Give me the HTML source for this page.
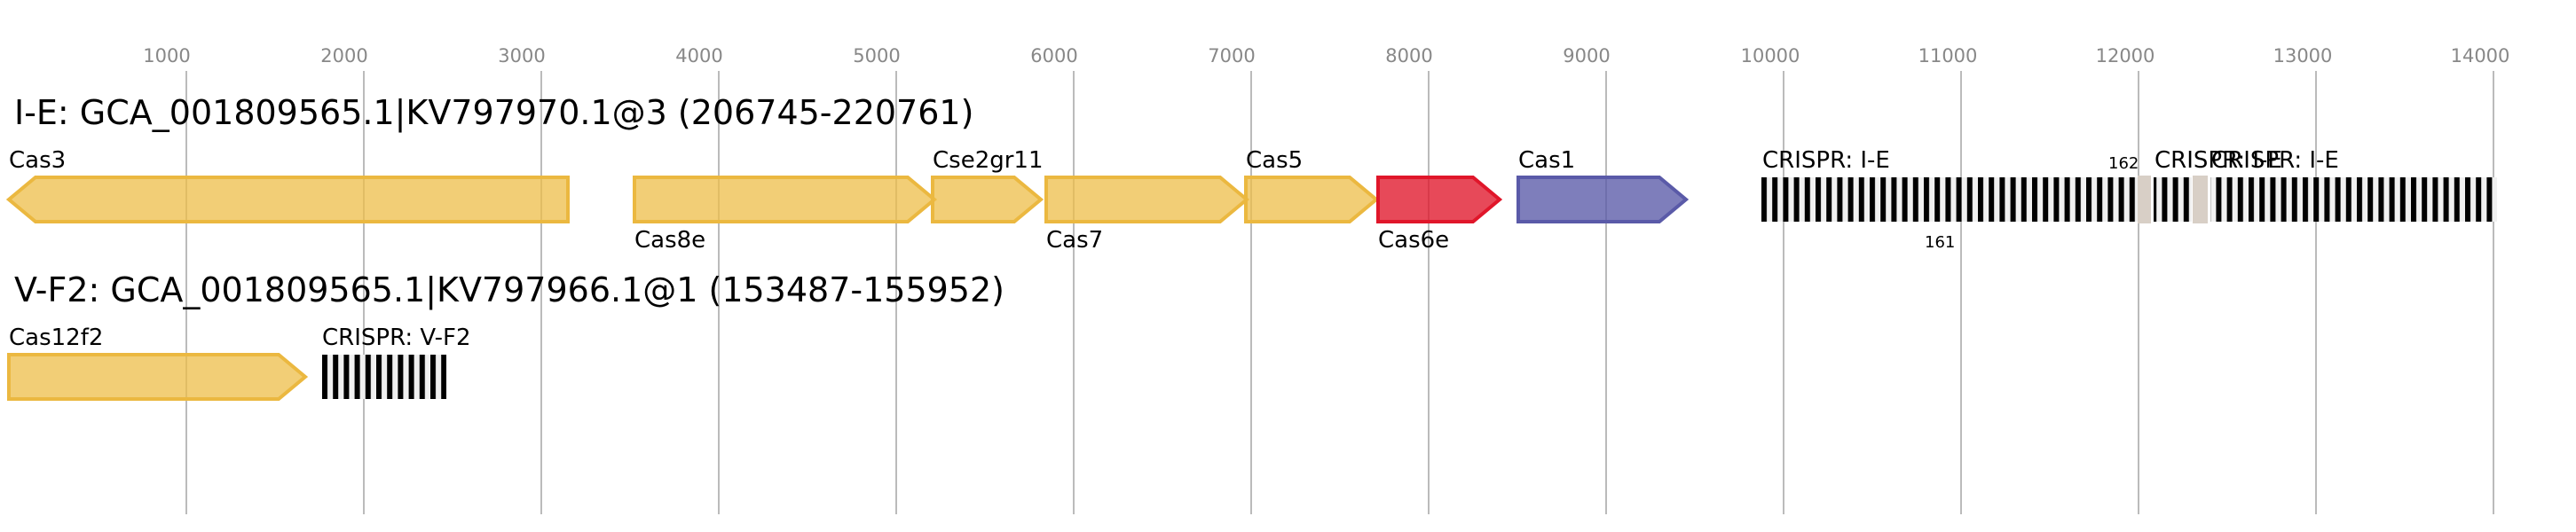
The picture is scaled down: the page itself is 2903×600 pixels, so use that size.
<!DOCTYPE html>
<html><head><meta charset="utf-8"><style>
html,body{margin:0;padding:0;background:#fff;}
svg{display:block;font-family:"DejaVu Sans","Liberation Sans",sans-serif;}
</style></head><body>
<svg width="2903" height="600" viewBox="0 0 2903 600" xmlns="http://www.w3.org/2000/svg">
<defs>
<pattern id="cr" x="1985" y="0" width="12.2" height="600" patternUnits="userSpaceOnUse">
<rect x="0" y="0" width="12.2" height="600" fill="#f0f0f0"/>
<rect x="0" y="0" width="6" height="600" fill="#000"/>
</pattern>
<pattern id="cr2" x="363" y="0" width="12.2" height="600" patternUnits="userSpaceOnUse">
<rect x="0" y="0" width="12.2" height="600" fill="#f0f0f0"/>
<rect x="0" y="0" width="6" height="600" fill="#000"/>
</pattern>
</defs>
<g fill="#888" font-size="21" text-anchor="middle">
<text x="188" y="70">1000</text><text x="388" y="70">2000</text><text x="588" y="70">3000</text>
<text x="788" y="70">4000</text><text x="988" y="70">5000</text><text x="1188" y="70">6000</text>
<text x="1388" y="70">7000</text><text x="1588" y="70">8000</text><text x="1788" y="70">9000</text>
<text x="1995" y="70">10000</text><text x="2195" y="70">11000</text><text x="2395" y="70">12000</text>
<text x="2595" y="70">13000</text><text x="2795" y="70">14000</text>
</g>
<g stroke="#bbb" stroke-width="2">
<line x1="210" y1="80" x2="210" y2="580"/><line x1="410" y1="80" x2="410" y2="580"/><line x1="610" y1="80" x2="610" y2="580"/>
<line x1="810" y1="80" x2="810" y2="580"/><line x1="1010" y1="80" x2="1010" y2="580"/><line x1="1210" y1="80" x2="1210" y2="580"/>
<line x1="1410" y1="80" x2="1410" y2="580"/><line x1="1610" y1="80" x2="1610" y2="580"/><line x1="1810" y1="80" x2="1810" y2="580"/>
<line x1="2010" y1="80" x2="2010" y2="580"/><line x1="2210" y1="80" x2="2210" y2="580"/><line x1="2410" y1="80" x2="2410" y2="580"/>
<line x1="2610" y1="80" x2="2610" y2="580"/><line x1="2810" y1="80" x2="2810" y2="580"/>
</g>
<g fill="#000" font-size="38">
<text x="16" y="140">I-E: GCA_001809565.1|KV797970.1@3 (206745-220761)</text>
<text x="16" y="340">V-F2: GCA_001809565.1|KV797966.1@1 (153487-155952)</text>
</g>
<g stroke-width="4" stroke-linejoin="miter">
<g fill="#eebe48" fill-opacity="0.75" stroke="#ebb840">
<polygon points="640,200 640,250 40,250 10,225 40,200"/>
<polygon points="715,200 1023,200 1053,225 1023,250 715,250"/>
<polygon points="1051,200 1143,200 1173,225 1143,250 1051,250"/>
<polygon points="1179,200 1375,200 1405,225 1375,250 1179,250"/>
<polygon points="1404,200 1521,200 1551,225 1521,250 1404,250"/>
<polygon points="10,400 314,400 344,425 314,450 10,450"/>
</g>
<polygon points="1553,200 1660,200 1690,225 1660,250 1553,250" fill="#e0162a" fill-opacity="0.78" stroke="#e0162a"/>
<polygon points="1711,200 1870,200 1900,225 1870,250 1711,250" fill="#5a5aa8" fill-opacity="0.78" stroke="#5a5aa8"/>
</g>
<rect x="1985" y="200" width="424" height="50" fill="url(#cr)"/>
<rect x="2427" y="200" width="43" height="50" fill="url(#cr)"/>
<rect x="2491" y="200" width="323" height="50" fill="url(#cr)"/>
<rect x="2409" y="198" width="15" height="54" fill="#d8cfc6"/>
<rect x="2471" y="198" width="17" height="54" fill="#d8cfc6"/>
<rect x="363" y="400" width="140" height="50" fill="url(#cr2)"/>
<g fill="#000" font-size="26">
<text x="10" y="189">Cas3</text>
<text x="715" y="279">Cas8e</text>
<text x="1051" y="189">Cse2gr11</text>
<text x="1179" y="279">Cas7</text>
<text x="1404" y="189">Cas5</text>
<text x="1553" y="279">Cas6e</text>
<text x="1711" y="189">Cas1</text>
<text x="1986" y="189">CRISPR: I-E</text>
<text x="2428" y="189">CRISPR: I-E</text>
<text x="2492" y="189">CRISPR: I-E</text>
<text x="10" y="389">Cas12f2</text>
<text x="363" y="389">CRISPR: V-F2</text>
</g>
<g fill="#000" font-size="18">
<text x="2376" y="190">162</text>
<text x="2169" y="279">161</text>
</g>
</svg>
</body></html>
